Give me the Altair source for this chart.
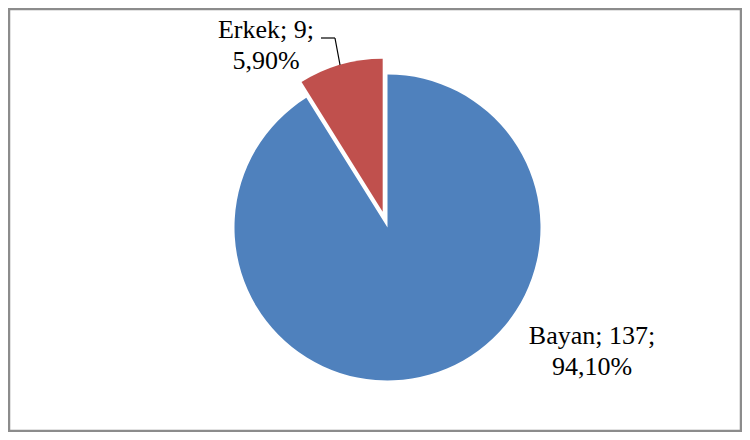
import altair as alt
import pandas as pd

categories = ["Bayan", "Erkek"]
counts = [137, 9]
percent_labels = ["94,10%", "5,90%"]
# slice shares as drawn in the picture (angle of the red slice ~32 degrees)
drawn_share = [91.1, 8.9]
colors = ["#4F81BD", "#C0504D"]

df = pd.DataFrame({
    "cat": categories,
    "count": counts,
    "pct": percent_labels,
    "share": drawn_share,
    "order": [0, 1],
})
df["label"] = df["cat"] + "; " + df["count"].astype(str) + ";\n" + df["pct"]

FONT = "'Liberation Serif', 'Times New Roman', Times, serif"

base = alt.Chart(df).transform_stack(
    stack="share", as_=["s0", "s1"], groupby=[], sort=[alt.SortField("order")]
)

theta_scale = alt.Scale(domain=[0, 100], range=[0, 6.283185307])
color_scale = alt.Scale(domain=categories, range=colors)


def slice_layer(cat, cx, cy):
    return base.transform_filter(alt.datum.cat == cat).mark_arc(radius=153).encode(
        theta=alt.Theta("s0:Q", scale=theta_scale),
        theta2="s1:Q",
        color=alt.Color("cat:N", scale=color_scale, legend=None),
        x=alt.value(cx),
        y=alt.value(cy),
    )


def label_layer(cat, lx, ly):
    return alt.Chart(df).transform_filter(alt.datum.cat == cat).mark_text(
        font=FONT, fontSize=26, lineBreak="\n", lineHeight=31,
        align="center", baseline="alphabetic", color="#000000"
    ).encode(text="label:N", x=alt.value(lx), y=alt.value(ly))


one = alt.Chart(df).transform_filter(alt.datum.cat == "Erkek")

frame = one.mark_rect(fill=None, stroke="#8c8c8c", strokeWidth=2.5).encode(
    x=alt.value(1), x2=alt.value(733), y=alt.value(1), y2=alt.value(423)
)

blue = slice_layer("Bayan", 379.5, 219.5)
red = slice_layer("Erkek", 374.7, 203.7)
lab_b = label_layer("Bayan", 584, 336)
lab_e = label_layer("Erkek", 258, 30)

leader1 = one.mark_rule(color="black", strokeWidth=1.2).encode(
    x=alt.value(313), x2=alt.value(327), y=alt.value(30), y2=alt.value(30))
leader2 = one.mark_rule(color="black", strokeWidth=1.2).encode(
    x=alt.value(327), x2=alt.value(332), y=alt.value(30), y2=alt.value(57))

chart = alt.layer(frame, blue, red, leader1, leader2, lab_b, lab_e).properties(
    width=734, height=424, padding=0, autosize=alt.AutoSizeParams(type="none")
).configure_view(stroke=None).configure(background="white")

chart.save("out.html", embed_options={"renderer": "svg", "actions": False})
